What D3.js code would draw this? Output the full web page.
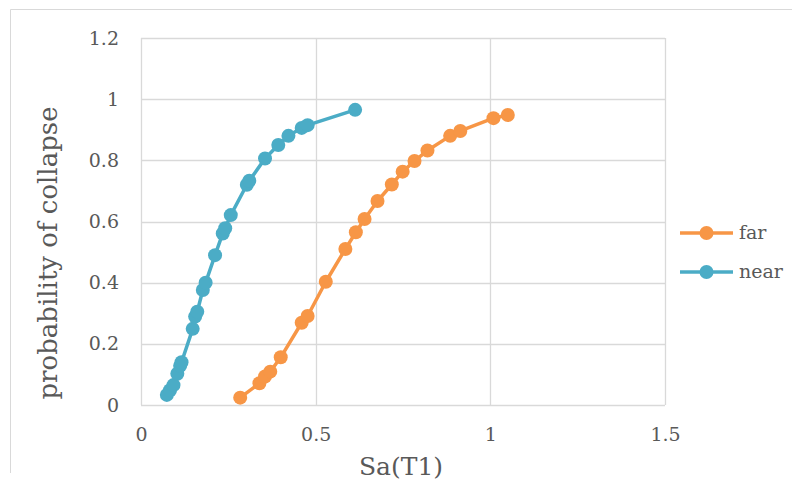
<!DOCTYPE html>
<html>
  <head>
    <meta charset="utf-8">
    <script src="https://d3js.org/d3.v7.min.js"></script>
    <style>
      body { margin: 0; background: #fff; }
      svg text { font-family: "DejaVu Serif", serif; fill: #595959; }
    </style>
  </head>
  <body>
    <script>
      // data
      var farX  = [0.284, 0.339, 0.355, 0.370, 0.400, 0.460, 0.477, 0.529, 0.585, 0.615, 0.640, 0.677, 0.718, 0.749, 0.783, 0.820, 0.885, 0.914, 1.009, 1.050]
      var farY  = [0.024, 0.071, 0.093, 0.109, 0.156, 0.269, 0.291, 0.403, 0.510, 0.565, 0.608, 0.667, 0.721, 0.763, 0.798, 0.832, 0.880, 0.896, 0.938, 0.948]
      var nearX = [0.074, 0.083, 0.093, 0.104, 0.112, 0.116, 0.148, 0.155, 0.161, 0.177, 0.185, 0.212, 0.234, 0.241, 0.257, 0.303, 0.310, 0.355, 0.393, 0.422, 0.460, 0.477, 0.613]
      var nearY = [0.033, 0.048, 0.065, 0.102, 0.128, 0.140, 0.249, 0.289, 0.305, 0.376, 0.400, 0.490, 0.561, 0.578, 0.621, 0.720, 0.733, 0.806, 0.850, 0.880, 0.906, 0.915, 0.965]
      var xTicks = [0, 0.5, 1, 1.5]
      var yTicks = [0, 0.2, 0.4, 0.6, 0.8, 1, 1.2]
      var seriesNames = ['far', 'near']
      var seriesColors = ['#F79646', '#4BACC6']

      var width = 792, height = 481

      var svg = d3.select('body').append('svg')
        .attr('width', width)
        .attr('height', height)

      // chart frame (left and top edges only show)
      svg.append('path')
        .attr('d', 'M10.5,473 V9.5 H800')
        .attr('fill', 'none')
        .attr('stroke', '#d9d9d9')

      var x = d3.scaleLinear().domain([0, 1.5]).range([141, 665])
      var y = d3.scaleLinear().domain([0, 1.2]).range([405, 38])

      // gridlines
      var grid = svg.append('g')
      grid.selectAll('.hg').data(yTicks).enter().append('line')
        .attr('x1', x(0)).attr('x2', x(1.5))
        .attr('y1', function(d){ return Math.round(y(d)) + 0.5 })
        .attr('y2', function(d){ return Math.round(y(d)) + 0.5 })
        .attr('stroke', '#d9d9d9').attr('stroke-width', 1.3)
      grid.selectAll('.vg').data(xTicks).enter().append('line')
        .attr('y1', y(0)).attr('y2', y(1.2))
        .attr('x1', function(d){ return Math.round(x(d)) + 0.5 })
        .attr('x2', function(d){ return Math.round(x(d)) + 0.5 })
        .attr('stroke', '#d9d9d9').attr('stroke-width', 1.3)

      // axes (labels only)
      svg.append('g')
        .attr('transform', 'translate(0,' + y(0) + ')')
        .call(d3.axisBottom(x).tickValues(xTicks).tickSize(0).tickPadding(23).tickFormat(d3.format('')))
      svg.append('g')
        .attr('transform', 'translate(' + x(0) + ',0)')
        .call(d3.axisLeft(y).tickValues(yTicks).tickSize(0).tickPadding(22).tickFormat(d3.format('')))
      svg.selectAll('.domain').remove()
      svg.selectAll('.tick text')
        .style('font-family', '"DejaVu Serif", serif')
        .style('font-size', '19px')
        .attr('fill', '#555555')

      // axis titles
      svg.append('text')
        .attr('x', 401).attr('y', 475)
        .attr('text-anchor', 'middle')
        .style('font-size', '25px')
        .text('Sa(T1)')
      svg.append('text')
        .attr('transform', 'translate(57,253) rotate(-90)')
        .attr('text-anchor', 'middle')
        .style('font-size', '26px')
        .text('probability of collapse')

      var series = [
        { name: seriesNames[0], color: seriesColors[0], pts: d3.zip(farX, farY) },
        { name: seriesNames[1], color: seriesColors[1], pts: d3.zip(nearX, nearY) }
      ]

      var line = d3.line()
        .x(function(d){ return x(d[0]) })
        .y(function(d){ return y(d[1]) })

      series.forEach(function(s) {
        var g = svg.append('g')
        g.append('path')
          .attr('d', line(s.pts))
          .attr('fill', 'none')
          .attr('stroke', s.color)
          .attr('stroke-width', 3.5)
          .attr('stroke-linejoin', 'round')
        g.selectAll('circle').data(s.pts).enter().append('circle')
          .attr('cx', function(d){ return x(d[0]) })
          .attr('cy', function(d){ return y(d[1]) })
          .attr('r', 7)
          .attr('fill', s.color)
      })

      // legend
      var legend = svg.append('g')
      series.forEach(function(s, i) {
        var ly = 233 + i * 39
        legend.append('line')
          .attr('x1', 680).attr('x2', 733)
          .attr('y1', ly).attr('y2', ly)
          .attr('stroke', s.color).attr('stroke-width', 3.5)
        legend.append('circle')
          .attr('cx', 706.5).attr('cy', ly).attr('r', 7)
          .attr('fill', s.color)
        legend.append('text')
          .attr('x', 739).attr('y', ly + 6)
          .style('font-size', '19px')
          .text(s.name)
      })
    </script>
  </body>
</html>
